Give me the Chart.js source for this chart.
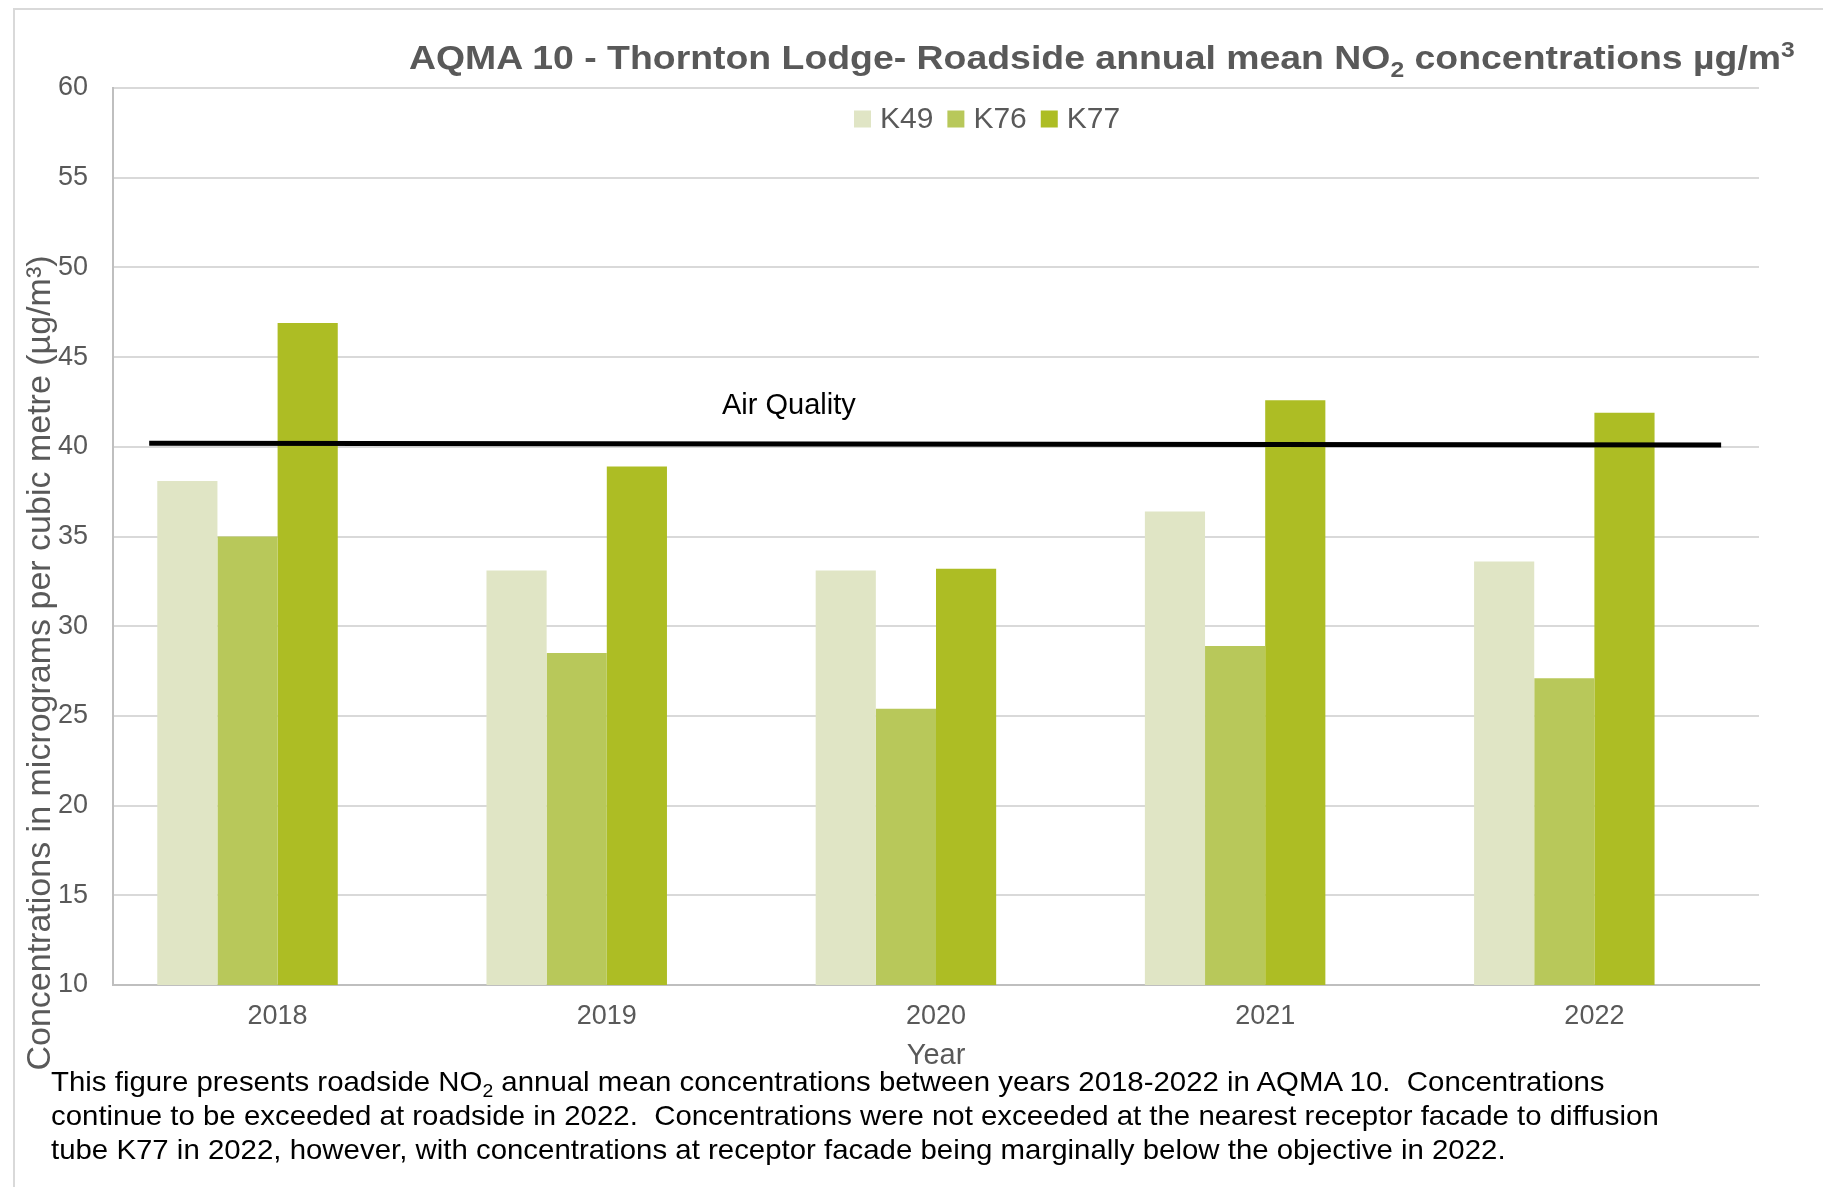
<!DOCTYPE html>
<html>
<head>
<meta charset="utf-8">
<script src="https://cdn.jsdelivr.net/npm/chart.js@4.4.1/dist/chart.umd.min.js"></script>
<style>
  html, body { margin: 0; padding: 0; background: #fff; }
  body { width: 1823px; height: 1187px; position: relative; overflow: hidden; font-family: "Liberation Sans", Arial, sans-serif; }
  #frame { position: absolute; left: 13px; top: 8px; width: 1850px; height: 1250px; border-top: 2px solid #d9d9d9; border-left: 2px solid #d9d9d9; }
  #wrap { position: absolute; left: 0; top: 0; width: 1823px; height: 1187px; }
  #title { position: absolute; left: 409px; top: 37px; font-weight: bold; font-size: 34px; color: #595959; white-space: nowrap; line-height: 40px; transform: scaleX(1.1); transform-origin: 0 0; }
  #caption { position: absolute; left: 51px; top: 1065px; font-size: 28px; line-height: 34px; color: #000; white-space: nowrap; transform: scaleX(1.05); transform-origin: 0 0; }
  sub { font-size: 0.66em; vertical-align: -0.35em; line-height: 0; }
  sup { font-size: 0.66em; vertical-align: 0.55em; line-height: 0; }
</style>
</head>
<body>
<div id="frame"></div>
<div id="wrap"><canvas id="chart" width="1823" height="1187"></canvas></div>
<div id="title">AQMA 10 - Thornton Lodge- Roadside annual mean NO<sub>2</sub> concentrations µg/m<sup>3</sup></div>
<div id="caption">This figure presents roadside NO<sub>2</sub> annual mean concentrations between years 2018-2022 in AQMA 10.&nbsp; Concentrations<br>continue to be exceeded at roadside in 2022.&nbsp; Concentrations were not exceeded at the nearest receptor facade to diffusion<br>tube K77 in 2022, however, with concentrations at receptor facade being marginally below the objective in 2022.</div>
<script>
// dados
const years = ["2018", "2019", "2020", "2021", "2022"];
const k49 = [38.1, 33.1, 33.1, 36.4, 33.6];
const k76 = [35.0, 28.5, 25.4, 28.9, 27.1];
const k77 = [46.9, 38.9, 33.2, 42.6, 41.9];
// série do objetivo sem colunas (ocupa a 4a posição do grupo, como no original)
const objective = [];
const yTicks = [10, 15, 20, 25, 30, 35, 40, 45, 50, 55, 60];

// linha desenhada do objetivo (Air Quality), em anos
const aqLineX = [2017.61, 2022.385];
const aqLineY = [40.2, 40.1];

const FONT = '"Liberation Sans", Arial, sans-serif';
const GREY = "#595959";

// legenda dentro da área do gráfico
const legendInside = {
  id: "legendInside",
  afterDraw(chart) {
    const ctx = chart.ctx;
    const bars = chart.data.datasets.filter((d) => d.type !== "line" && d.data.length);
    let x = 854;
    const cy = 119;
    ctx.save();
    ctx.font = "30px " + FONT;
    ctx.textBaseline = "middle";
    bars.forEach((d) => {
      ctx.fillStyle = d.backgroundColor;
      ctx.fillRect(x, cy - 8.5, 17, 17);
      x += 26;
      ctx.fillStyle = GREY;
      ctx.fillText(d.label, x, cy + 1);
      x += ctx.measureText(d.label).width + 14;
    });
    ctx.restore();
  },
};

// título do eixo Y e rótulo da linha
const extraText = {
  id: "extraText",
  afterDraw(chart) {
    const ctx = chart.ctx;
    ctx.save();
    ctx.translate(41, 663);
    ctx.rotate(-Math.PI / 2);
    ctx.font = "34px " + FONT;
    ctx.fillStyle = GREY;
    ctx.textAlign = "center";
    ctx.textBaseline = "middle";
    ctx.fillText("Concentrations in micrograms per cubic metre (µg/m³)", 0, 0);
    ctx.restore();

    const x = chart.scales.x;
    const y = chart.scales.y;
    ctx.save();
    ctx.font = "29px " + FONT;
    ctx.fillStyle = "#000";
    ctx.textBaseline = "middle";
    ctx.fillText("Air Quality", x.getPixelForValue(2019.35), y.getPixelForValue(42.3));
    ctx.restore();
  },
};

const ctx = document.getElementById("chart").getContext("2d");
new Chart(ctx, {
  type: "bar",
  data: {
    labels: years,
    datasets: [
      { label: "K49", data: k49, backgroundColor: "#E0E5C5", order: 1 },
      { label: "K76", data: k76, backgroundColor: "#B8C85A", order: 1 },
      { label: "K77", data: k77, backgroundColor: "#ADBD24", order: 1 },
      { label: "Objective", data: objective, backgroundColor: "#000000", order: 1 },
      {
        type: "line",
        label: "Air Quality",
        data: aqLineX.map((x, i) => ({ x: x, y: aqLineY[i] })),
        borderColor: "#000",
        borderWidth: 5,
        pointRadius: 0,
        fill: false,
        order: 0,
      },
    ],
  },
  options: {
    responsive: false,
    animation: false,
    layout: { padding: { left: 14, right: 64, top: 88, bottom: 0 } },
    datasets: {
      bar: { categoryPercentage: 0.731, barPercentage: 1.0 },
    },
    plugins: {
      legend: { display: false },
      title: { display: false },
      tooltip: { enabled: false },
    },
    scales: {
      x: {
        type: "linear",
        min: 2017.5,
        max: 2022.5,
        offset: false,
        afterBuildTicks(scale) {
          scale.ticks = years.map((v) => ({ value: Number(v) }));
        },
        grid: { display: false, drawTicks: false },
        border: { display: true, color: "#bfbfbf", width: 2 },
        ticks: {
          font: { family: FONT, size: 27 },
          color: GREY,
          padding: 15,
          callback: (v) => String(v),
        },
        title: {
          display: true,
          text: "Year",
          font: { family: FONT, size: 29 },
          color: GREY,
          padding: { top: 4, bottom: 114 },
        },
        afterFit(scale) {
          scale.height = 202;
        },
      },
      y: {
        min: 10,
        max: 60,
        afterBuildTicks(scale) {
          scale.ticks = yTicks.map((v) => ({ value: v }));
        },
        grid: { color: "#d9d9d9", lineWidth: 2, drawTicks: false },
        border: { display: true, color: "#bfbfbf", width: 2 },
        ticks: { font: { family: FONT, size: 27 }, color: GREY, padding: 25 },
        afterFit(scale) {
          scale.width = 99;
        },
      },
    },
  },
  plugins: [legendInside, extraText],
});
</script>
</body>
</html>
